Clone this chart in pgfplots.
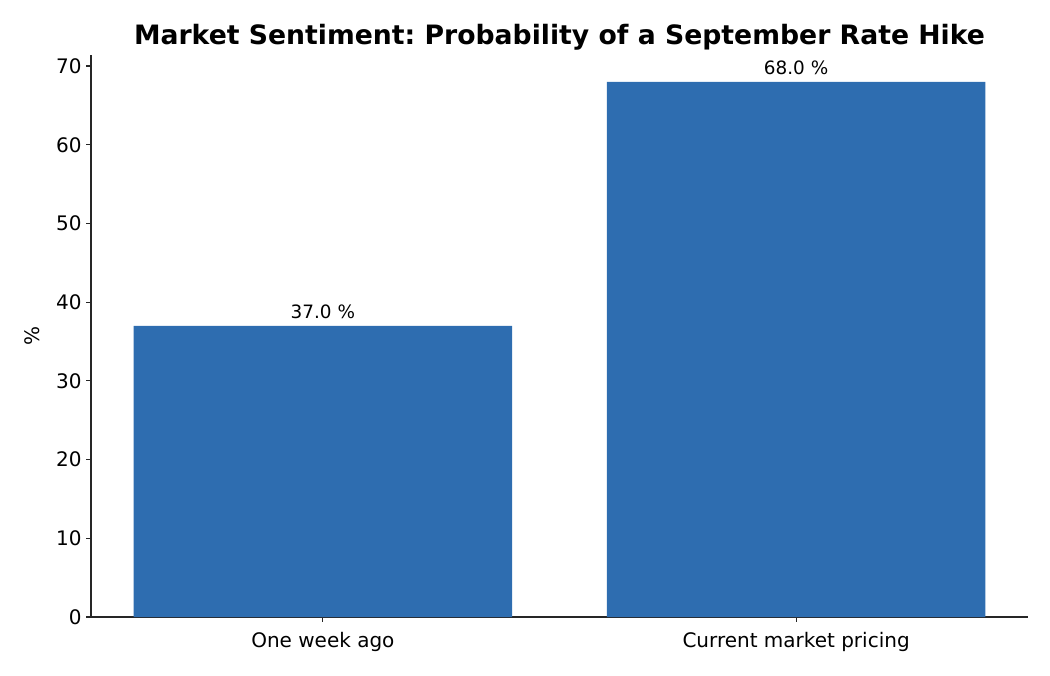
\documentclass[border=0pt]{standalone}
\usepackage{pgfplots}
\pgfplotsset{compat=1.18}
\usepackage{fontspec}
\setmainfont{DejaVu Sans}
\frenchspacing
\definecolor{barblue}{HTML}{2E6DB0}
\definecolor{axgray}{HTML}{262626}
\begin{document}
\begin{tikzpicture}
\useasboundingbox (-68.25pt,-43.5pt) rectangle (719.25pt,462.75pt);
\begin{axis}[
  at={(0,0)}, anchor=south west,
  scale only axis,
  width=702.75pt, height=421.5pt,
  xmin=-0.49, xmax=1.49,
  ymin=0, ymax=71.4,
  axis x line*=bottom, axis y line*=left,
  axis line style={axgray, line width=0.83pt, -},
  xtick={0,1},
  xticklabels={One week ago, Current market pricing},
  ytick={0,10,...,70},
  tick align=outside,
  major tick length=3.6pt,
  tick style={axgray, line width=0.83pt},
  tick pos=left,
  /pgf/number format/assume math mode=true,
  ticklabel style={font=\fontsize{15pt}{17pt}\selectfont},
  xticklabel style={yshift=-4pt},
  ylabel={\%},
  ylabel style={font=\fontsize{15pt}{17pt}\selectfont, yshift=5pt},
  title={\textbf{Market Sentiment: Probability of a September Rate Hike}},
  title style={font=\fontsize{20pt}{23pt}\selectfont, yshift=-6pt},
  ybar, bar width=0.8, bar shift=0pt,
  nodes near coords={\pgfmathprintnumber[fixed,fixed zerofill,precision=1]{\pgfplotspointmeta} \%},
  nodes near coords style={font=\fontsize{13.8pt}{16pt}\selectfont, black, yshift=1.5pt},
]
\addplot[fill=barblue, draw=none, /pgfplots/bar width=0.8] coordinates {(0,37) (1,68)};
\end{axis}
\end{tikzpicture}
\end{document}
